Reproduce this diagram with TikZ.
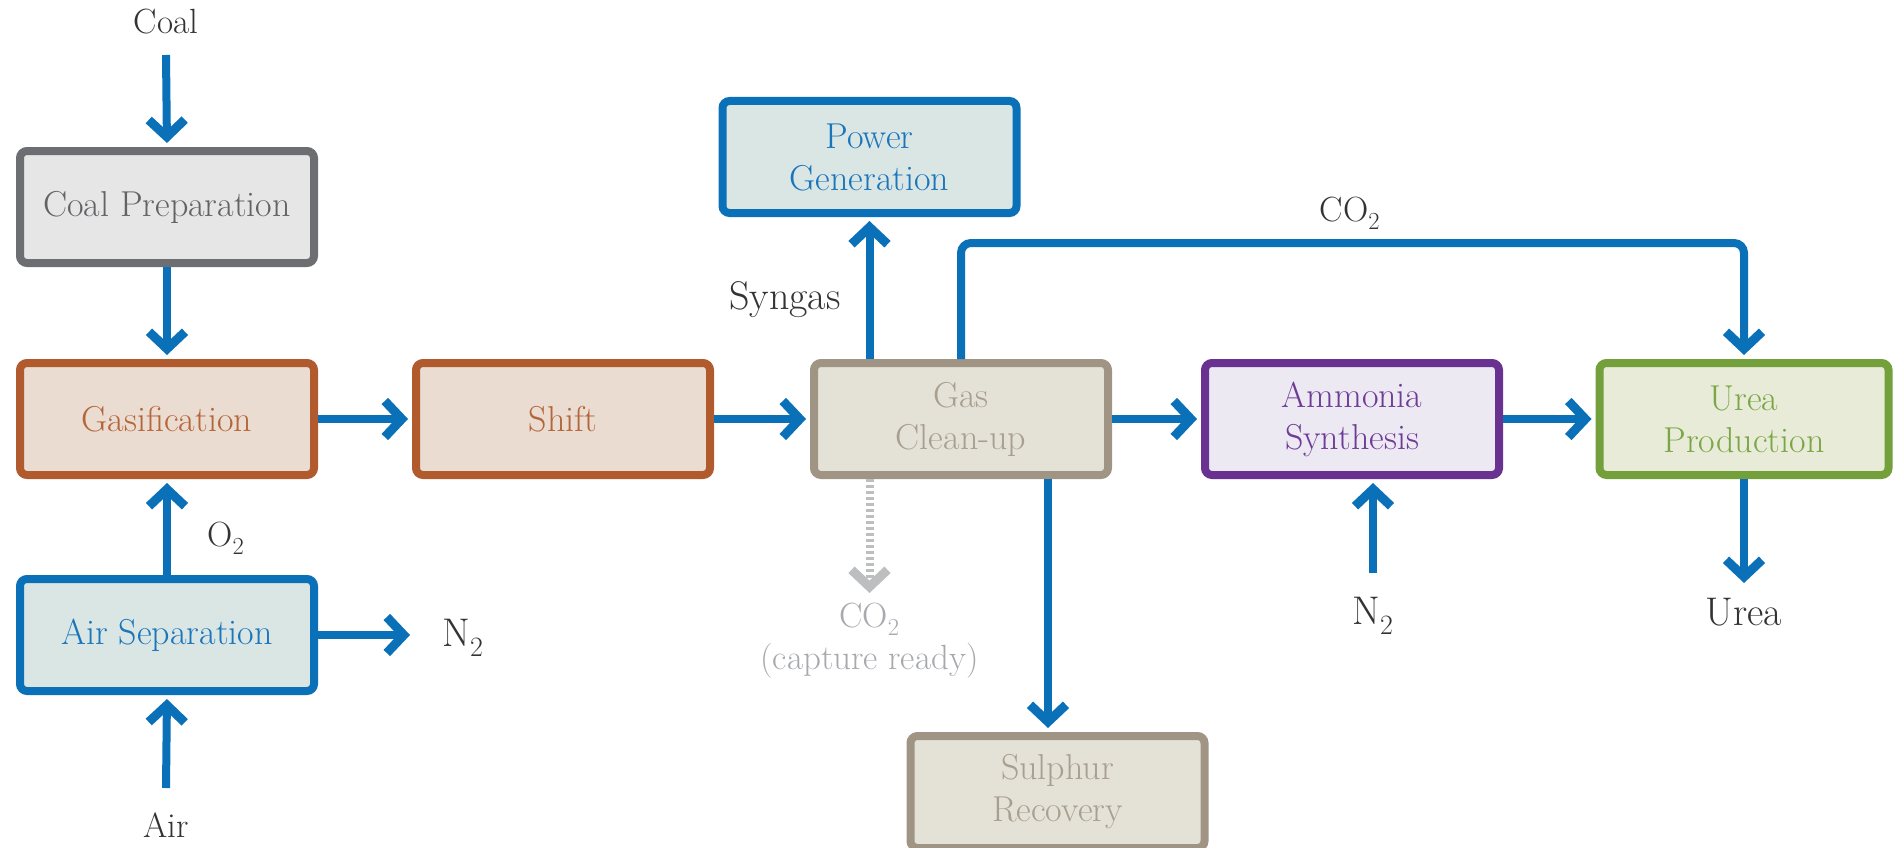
\documentclass[tikz,border=0pt]{standalone}
\usepackage{fontspec}
\usetikzlibrary{arrows.meta}
\definecolor{flow}{HTML}{0A71B9}
\definecolor{labelc}{HTML}{333333}
\definecolor{capc}{HTML}{A7A9AC}
\definecolor{dotc}{HTML}{BCBEC0}
\definecolor{prepB}{HTML}{6D6E71}\definecolor{prepF}{HTML}{E6E6E6}\definecolor{prepT}{HTML}{626366}
\definecolor{rustB}{HTML}{B05A2E}\definecolor{rustF}{HTML}{EADCD0}\definecolor{rustT}{HTML}{B5653A}
\definecolor{blueB}{HTML}{0A71B9}\definecolor{blueF}{HTML}{DAE6E4}\definecolor{blueT}{HTML}{1B75BB}
\definecolor{tanB}{HTML}{A09584}\definecolor{tanF}{HTML}{E4E2D6}\definecolor{tanT}{HTML}{A89F90}
\definecolor{purB}{HTML}{6A3290}\definecolor{purF}{HTML}{EDE9F3}\definecolor{purT}{HTML}{6E3C96}
\definecolor{grnB}{HTML}{73A03A}\definecolor{grnF}{HTML}{E8EBD8}\definecolor{grnT}{HTML}{7BA646}
\begin{document}
\begin{tikzpicture}[x=1pt,y=-1pt,
  box/.style={draw, line width=8pt, rounded corners=7pt, minimum width=294pt,
    minimum height=112pt, inner sep=0pt, align=center,
    font=\fontsize{36}{42}\selectfont},
  prepbox/.style={box, draw=prepB, fill=prepF, text=prepT},
  rustbox/.style={box, draw=rustB, fill=rustF, text=rustT},
  bluebox/.style={box, draw=blueB, fill=blueF, text=blueT},
  tanbox/.style={box, draw=tanB, fill=tanF, text=tanT},
  purbox/.style={box, draw=purB, fill=purF, text=purT},
  grnbox/.style={box, draw=grnB, fill=grnF, text=grnT},
  flowline/.style={draw=flow, line width=8pt},
  chev/.tip={Straight Barb[length=17pt,width=36pt,line width=9pt]},
  arr/.style={flowline, -chev},
  arrn/.style={arr, shorten >=4pt},
  dotarr/.style={draw=dotc, line width=8pt, dash pattern=on 3pt off 3pt, -chev},
  lbl/.style={text=labelc, inner sep=0pt, font=\fontsize{35}{42}\selectfont},
  biglbl/.style={text=labelc, inner sep=0pt, font=\fontsize{40}{46}\selectfont},
]
\useasboundingbox (0,0) rectangle (1894,848);
\clip (0,0) rectangle (1894,848);

% boxes
\node[prepbox] (prep) at (167,207) {Coal Preparation};
\node[rustbox] (gas) at (167,419) {Gasification};
\node[bluebox] (air) at (167,635) {Air Separation};
\node[rustbox] (shift) at (563,419) {Shift};
\node[tanbox] (clean) at (961,419) {Gas\\Clean-up};
\node[bluebox] (power) at (869.5,157) {Power\\Generation};
\node[purbox] (amm) at (1352,419) {Ammonia\\Synthesis};
\node[grnbox, minimum width=289pt] (urea) at (1744,419) {Urea\\Production};
\node[tanbox] (sulph) at (1057.5,792) {Sulphur\\Recovery};

% labels
\node[lbl] (coal) at (166,22) {Coal};
\node[lbl] (airl) at (166,825) {Air};
\node[lbl] (o2) at (226,538) {O\textsubscript{2}};
\node[biglbl] (n2a) at (463,638) {N\textsubscript{2}};
\node[biglbl] (syn) at (785,300) {Syngas};
\node[lbl] (co2) at (1350,213) {CO\textsubscript{2}};
\node[biglbl] (n2b) at (1373,616) {N\textsubscript{2}};
\node[biglbl] (ureal) at (1744,612) {Urea};
\node[lbl, text=capc, align=center, anchor=north] (capt) at (869.5,603)
  {CO\textsubscript{2}\\(capture ready)};

% helper coordinates
\coordinate (coalout) at (166,55);
\coordinate (airin) at (166,788);
\coordinate (n2aend) at (410,635);
\coordinate (co2top) at (1350,243);
\coordinate (sx) at (1048,0);
\coordinate (n2bin) at (1373,573);
\coordinate (ureaout) at (1744,583);
\coordinate (captin) at (869.5,593);

% connectors
\draw[arrn] (coalout) -- (prep.north);
\draw[arrn] (prep.south) -- (gas.north);
\draw[arrn] (air.north) -- (gas.south);
\draw[arrn] (airin) -- (air.south);
\draw[arr] (air.east) -- (n2aend);
\draw[arrn] (gas.east) -- (shift.west);
\draw[arrn] (shift.east) -- (clean.west);
\draw[arrn] (clean.east) -- (amm.west);
\draw[arrn] (amm.east) -- (urea.west);
\draw[arrn] (power.south |- clean.north) -- (power.south);
\draw[arrn, rounded corners=10pt] (clean.north) |- (co2top) -| (urea.north);
\draw[dotarr] (power.south |- clean.south) -- (captin);
\draw[arrn] (clean.south -| sx) -- (sulph.north -| sx);
\draw[arrn] (n2bin) -- (n2bin |- amm.south);
\draw[arr] (urea.south) -- (ureaout);
\end{tikzpicture}
\end{document}
